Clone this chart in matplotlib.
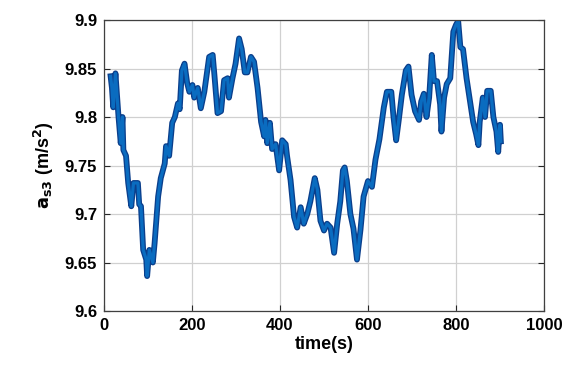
import numpy as np
import matplotlib
matplotlib.use("Agg")
from matplotlib import pyplot as plt

# trace
t = [15, 18, 21, 26, 33, 38, 42, 44, 50, 55, 62, 67, 77, 80, 84, 89, 96, 98,
     103, 111, 115, 123, 129, 138, 141, 148, 155, 161, 168, 172, 177, 183, 189,
     194, 201, 205, 213, 220, 228, 239, 247, 251, 258, 266, 273, 281, 284, 292,
     299, 307, 313, 320, 326, 334, 341, 349, 357, 364,
     367, 371, 377, 382, 390, 398, 405, 413, 416, 424, 432, 439, 447, 454, 462,
     469, 479, 485, 492, 500, 507, 515, 523, 530, 537, 543,
     547, 552, 560, 567, 575, 583, 590, 600, 609, 617, 626, 636, 643, 653, 658,
     664, 670, 677, 686, 692, 699, 707, 716, 721,
     727, 733, 739, 745, 750, 757, 764, 767, 773, 779, 787, 794, 800, 805, 810,
     816, 824, 832, 839, 846, 851, 854, 861, 866, 871, 879, 885, 892, 896, 900,
     902]
a_s3 = [9.842, 9.83, 9.81, 9.845, 9.80, 9.773, 9.80, 9.766, 9.76, 9.732, 9.708,
        9.732, 9.732, 9.71, 9.708, 9.663, 9.653, 9.636, 9.663, 9.65, 9.67,
        9.718, 9.737, 9.752, 9.77, 9.76, 9.794, 9.80, 9.814, 9.808, 9.848,
        9.855, 9.835,
        9.826, 9.833, 9.82, 9.83, 9.809, 9.826, 9.862, 9.864, 9.843, 9.804,
        9.806, 9.838, 9.84, 9.82, 9.84, 9.855, 9.881, 9.87, 9.846, 9.846,
        9.862, 9.857, 9.83, 9.795, 9.78,
        9.797, 9.773, 9.794, 9.767, 9.772, 9.745, 9.776, 9.772, 9.76, 9.735,
        9.697, 9.686, 9.707, 9.69, 9.70, 9.713, 9.737, 9.725, 9.693, 9.683,
        9.69, 9.686, 9.66, 9.69, 9.713, 9.745,
        9.748, 9.734, 9.70, 9.685, 9.653, 9.684, 9.718, 9.734, 9.728, 9.756,
        9.777, 9.81, 9.826, 9.826, 9.80, 9.776, 9.797, 9.823, 9.848, 9.852,
        9.823, 9.806, 9.797, 9.816,
        9.824, 9.80, 9.82, 9.864, 9.837, 9.837, 9.813, 9.785, 9.82, 9.834,
        9.84, 9.888, 9.895, 9.899, 9.872, 9.87, 9.84, 9.816, 9.795, 9.782,
        9.771, 9.795, 9.82, 9.80, 9.827, 9.827, 9.80, 9.785, 9.764, 9.792,
        9.775]

xticks = [0, 200, 400, 600, 800, 1000]
yticks = [9.6, 9.65, 9.7, 9.75, 9.8, 9.85, 9.9]

plt.rcParams['font.family'] = ['Liberation Sans', 'DejaVu Sans']

fig = plt.figure(figsize=(5.69, 3.74), dpi=100)
ax = fig.add_axes([0.1828, 0.1684, 0.7732, 0.7781])

ax.plot(t, a_s3, '-', color='#0b3f8c', linewidth=4.2, solid_joinstyle='round')
ax.plot(t, a_s3, '-', color='#0a6cc0', linewidth=2.3, solid_joinstyle='round')

ax.set_xlim(0, 1000)
ax.set_ylim(9.6, 9.9)
ax.set_xticks(xticks)
ax.set_yticks(yticks)
ax.set_xticklabels([str(v) for v in xticks])
ax.set_yticklabels(['9.6', '9.65', '9.7', '9.75', '9.8', '9.85', '9.9'])
ax.grid(True, color='#d0d0d0', linewidth=0.9)
ax.set_axisbelow(True)
ax.tick_params(direction='in', length=4, width=0.8, color='#262626',
               labelsize=12, pad=5, top=False, right=True)
for lab in ax.get_xticklabels() + ax.get_yticklabels():
    lab.set_fontweight('bold')
for s in ax.spines.values():
    s.set_color('#404040')
    s.set_linewidth(0.9)

ax.set_xlabel('time(s)', fontsize=13, fontweight='bold', labelpad=2)
ax.set_ylabel(r'$\mathbf{a_{s3}}$ (m/s$\mathbf{^2}$)', fontsize=13,
              fontweight='bold', labelpad=6)

fig.savefig('out.png', dpi=100)
